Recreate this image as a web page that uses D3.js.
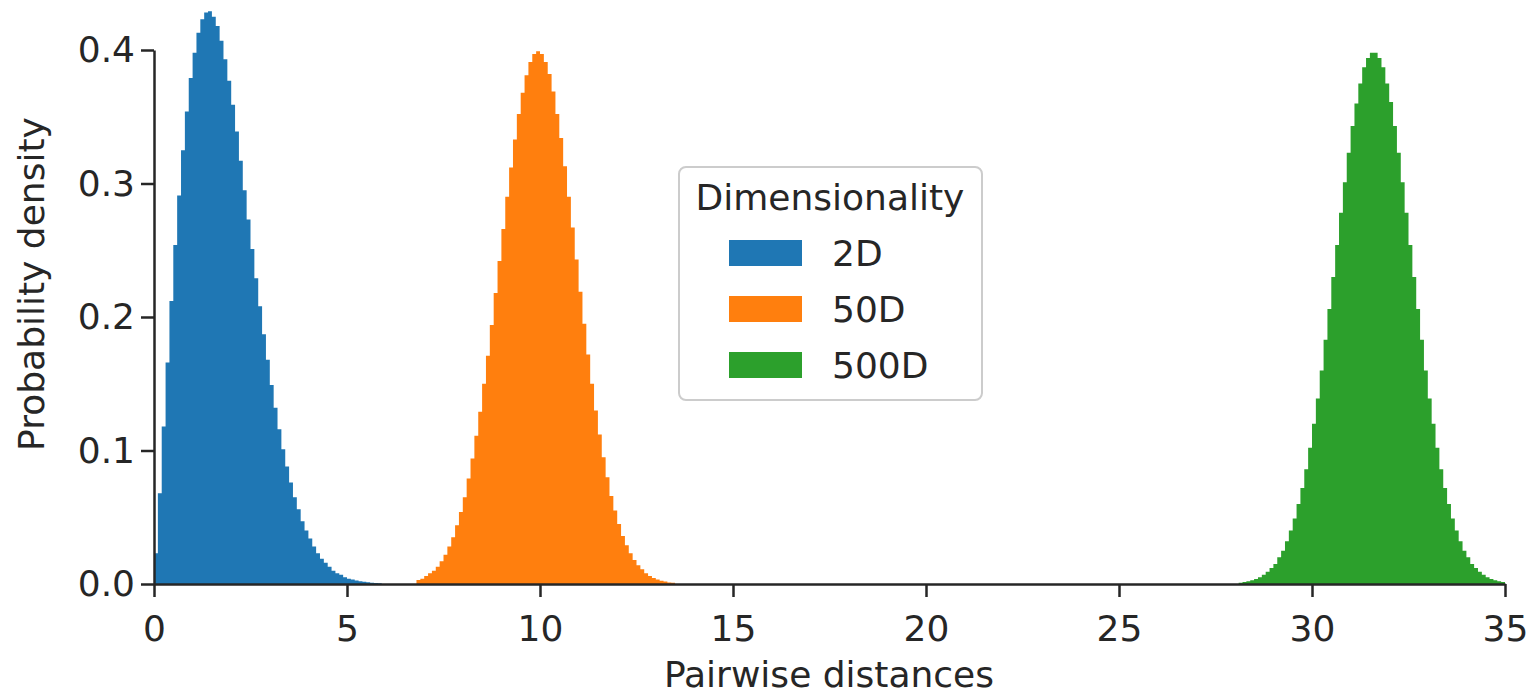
<!DOCTYPE html>
<html>
<head>
<meta charset="utf-8">
<script src="https://cdn.jsdelivr.net/npm/d3@7"></script>
<style>
    body { margin: 0; background: #fff; }
    text { font-family: "DejaVu Sans", sans-serif; fill: #262626; }
</style>
</head>
<body>
<div id="chart"></div>
<script>
const width = 1529;
const height = 696;

const margin = {
    "top": 50,
    "left": 154,
    "bottom": 112,
    "right": 24
}

// data: bin heights (density), bins of 0.1 starting at binStarts
const seriesNames = ["2D", "50D", "500D"];
const seriesColors = ["#1f77b4", "#ff7f0e", "#2ca02c"];
const binWidth = 0.1;
const binStarts = [0.0, 6.8, 28.1];

const density2D = [
    0.023, 0.068, 0.118, 0.166, 0.212, 0.254, 0.291, 0.325, 0.354, 0.379,
    0.398, 0.413, 0.423, 0.428, 0.429, 0.425, 0.418, 0.407, 0.393, 0.377,
    0.359, 0.339, 0.317, 0.295, 0.273, 0.251, 0.229, 0.208, 0.187, 0.168,
    0.149, 0.132, 0.116, 0.101, 0.088, 0.076, 0.065, 0.056, 0.047, 0.040,
    0.034, 0.028, 0.023, 0.019, 0.016, 0.013, 0.010, 0.008, 0.007, 0.005,
    0.004, 0.0034, 0.0027, 0.0021, 0.0016, 0.0013, 0.0010, 0.0007, 0.0005
];

const density50D = [
    0.003, 0.004, 0.006, 0.008, 0.010, 0.013, 0.017, 0.022, 0.028, 0.035,
    0.044, 0.054, 0.065, 0.079, 0.094, 0.111, 0.129, 0.150, 0.171, 0.194,
    0.218, 0.242, 0.266, 0.290, 0.312, 0.333, 0.352, 0.368, 0.381, 0.391,
    0.397, 0.399, 0.397, 0.391, 0.382, 0.369, 0.352, 0.334, 0.313, 0.290,
    0.267, 0.243, 0.219, 0.195, 0.172, 0.150, 0.130, 0.112, 0.095, 0.080,
    0.066, 0.055, 0.045, 0.036, 0.029, 0.023, 0.018, 0.014, 0.011, 0.008,
    0.006, 0.0045, 0.0034, 0.0025, 0.0018, 0.0012, 0.0009
];

const density500D = [
    0.0010, 0.0015, 0.0020, 0.0028, 0.0038, 0.0051, 0.0069, 0.0091, 0.012, 0.015,
    0.020, 0.025, 0.032, 0.040, 0.049, 0.060, 0.072, 0.086, 0.102, 0.120,
    0.139, 0.160, 0.183, 0.206, 0.230, 0.254, 0.278, 0.301, 0.323, 0.343,
    0.360, 0.375, 0.387, 0.394, 0.398, 0.398, 0.394, 0.387, 0.375, 0.361,
    0.343, 0.323, 0.301, 0.278, 0.254, 0.230, 0.206, 0.183, 0.160, 0.139,
    0.120, 0.102, 0.086, 0.072, 0.060, 0.049, 0.040, 0.032, 0.025, 0.020,
    0.015, 0.012, 0.0091, 0.0069, 0.0051, 0.0038, 0.0028, 0.0020, 0.0015
];

const xTicks = [0, 5, 10, 15, 20, 25, 30, 35];
const yTicks = [0.0, 0.1, 0.2, 0.3, 0.4];

const allDensities = [density2D, density50D, density500D];

const innerW = width - margin.left - margin.right;
const innerH = height - margin.top - margin.bottom;

// scales and axes
const xScale = d3.scaleLinear()
    .domain([0, 35])
    .range([0, innerW]);

const yScale = d3.scaleLinear()
    .domain([0, 0.4])
    .range([innerH, 0]);

const xAxis = d3.axisBottom(xScale).tickValues(xTicks).tickFormat(d3.format("d")).tickSize(13).tickSizeOuter(0).tickPadding(18);
const yAxis = d3.axisLeft(yScale).tickValues(yTicks).tickFormat(d3.format(".1f")).tickSize(13).tickSizeOuter(0).tickPadding(6);

const svg = d3.select("#chart").append("svg").attr("width", width).attr("height", height);
const g = svg.append("g").attr("transform", `translate(${margin.left},${margin.top})`);

// histograms as step areas
const histArea = d3.area()
    .x(d => xScale(d.x))
    .y0(yScale(0))
    .y1(d => yScale(d.y))
    .curve(d3.curveStepAfter);

allDensities.forEach((vals, i) => {
    const pts = vals.map((v, j) => ({x: binStarts[i] + j * binWidth, y: v}));
    pts.push({x: binStarts[i] + vals.length * binWidth, y: vals[vals.length - 1]});
    g.append("path")
        .datum(pts)
        .attr("fill", seriesColors[i])
        .attr("stroke", "none")
        .attr("d", histArea);
});

const gx = g.append("g")
    .attr("class", "x-axis")
    .attr("transform", `translate(0,${innerH})`)
    .call(xAxis);

const gy = g.append("g")
    .attr("class", "y-axis")
    .call(yAxis);

[gx, gy].forEach(ax => {
    ax.selectAll("path, line").attr("stroke", "#262626").attr("stroke-width", 2.5);
    ax.selectAll("text").attr("font-size", 36).attr("font-family", "DejaVu Sans").attr("fill", "#262626");
});

// axis labels
svg.append("text")
    .attr("x", 829)
    .attr("y", 687)
    .attr("text-anchor", "middle")
    .attr("font-size", 36)
    .text("Pairwise distances");

svg.append("text")
    .attr("transform", "translate(44,284) rotate(-90)")
    .attr("text-anchor", "middle")
    .attr("font-size", 36)
    .text("Probability density");

// legend
const legend = svg.append("g").attr("class", "legend");
legend.append("rect")
    .attr("x", 679).attr("y", 167)
    .attr("width", 303).attr("height", 233)
    .attr("rx", 7)
    .attr("fill", "#fff").attr("fill-opacity", 0.8)
    .attr("stroke", "#cccccc").attr("stroke-width", 2);

legend.append("text")
    .attr("x", 830).attr("y", 210)
    .attr("text-anchor", "middle")
    .attr("font-size", 36)
    .text("Dimensionality");

seriesNames.forEach((name, i) => {
    legend.append("rect")
        .attr("x", 729).attr("y", 240 + i * 56)
        .attr("width", 73).attr("height", 26)
        .attr("fill", seriesColors[i]);
    legend.append("text")
        .attr("x", 832).attr("y", 266 + i * 56)
        .attr("font-size", 36)
        .text(name);
});
</script>
</body>
</html>
